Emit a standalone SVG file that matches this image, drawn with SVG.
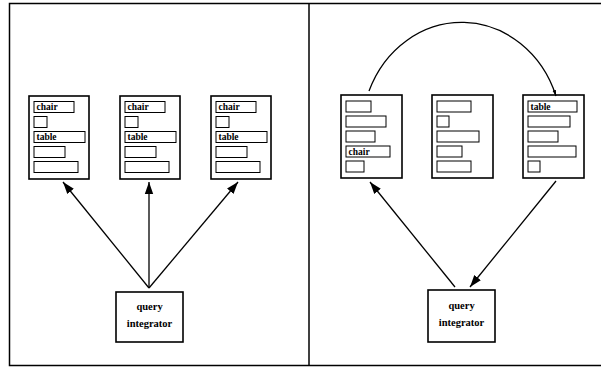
<svg xmlns="http://www.w3.org/2000/svg" width="601" height="370" viewBox="0 0 601 370">
<style>
.frame{fill:none;stroke:#000;stroke-width:1.5}
.doc{fill:#fff;stroke:#000;stroke-width:1.6}
.f{fill:#fff;stroke:#000;stroke-width:1}
.lbl{font-family:"Liberation Serif","Times New Roman",serif;font-weight:bold;font-size:9.5px;fill:#000}
.qi{font-family:"Liberation Serif","Times New Roman",serif;font-weight:bold;font-size:10.5px;fill:#000;text-anchor:middle}
.c{fill:none;stroke:#000;stroke-width:1.3}
</style>
<defs>
<marker id="ah" viewBox="0 0 10 10" refX="10" refY="5" markerWidth="6" markerHeight="6" markerUnits="userSpaceOnUse" orient="auto">
<path d="M0,2 L10,5 L0,8 Z" fill="#000"/>
</marker>
<marker id="ah2" viewBox="0 0 10 10" refX="10" refY="5" markerWidth="12" markerHeight="12" markerUnits="userSpaceOnUse" orient="auto">
<path d="M0,1.5 L10,5 L0,8.5 Z" fill="#000"/>
</marker>
</defs>
<g id="frame">
<rect class="frame" x="9.5" y="3.5" width="600" height="362"/>
<line class="frame" x1="309" y1="3.5" x2="309" y2="365.5"/>
</g>
<g id="doc1">
<rect class="doc" x="29" y="96" width="60" height="83"/>
<rect class="f" x="34" y="101.5" width="40" height="11"/><text class="lbl" x="36.5" y="110">chair</text>
<rect class="f" x="34" y="116.5" width="13" height="11"/>
<rect class="f" x="34" y="131.5" width="51" height="11"/><text class="lbl" x="36.5" y="140">table</text>
<rect class="f" x="34" y="146.5" width="31" height="11"/>
<rect class="f" x="34" y="161.5" width="44" height="11"/>
</g>
<g id="doc2">
<rect class="doc" x="120" y="96" width="60" height="83"/>
<rect class="f" x="125" y="101.5" width="40" height="11"/><text class="lbl" x="127.5" y="110">chair</text>
<rect class="f" x="125" y="116.5" width="13" height="11"/>
<rect class="f" x="125" y="131.5" width="51" height="11"/><text class="lbl" x="127.5" y="140">table</text>
<rect class="f" x="125" y="146.5" width="31" height="11"/>
<rect class="f" x="125" y="161.5" width="44" height="11"/>
</g>
<g id="doc3">
<rect class="doc" x="211" y="96" width="60" height="83"/>
<rect class="f" x="216" y="101.5" width="40" height="11"/><text class="lbl" x="218.5" y="110">chair</text>
<rect class="f" x="216" y="116.5" width="13" height="11"/>
<rect class="f" x="216" y="131.5" width="51" height="11"/><text class="lbl" x="218.5" y="140">table</text>
<rect class="f" x="216" y="146.5" width="31" height="11"/>
<rect class="f" x="216" y="161.5" width="44" height="11"/>
</g>
<g id="qi1">
<rect class="doc" x="116" y="292" width="67" height="50"/>
<text class="qi" x="149.5" y="310">query</text>
<text class="qi" x="149.5" y="327">integrator</text>
</g>
<g id="doc4">
<rect class="doc" x="341" y="95" width="61" height="83"/>
<rect class="f" x="346" y="101" width="25" height="11"/>
<rect class="f" x="346" y="116" width="40" height="11"/>
<rect class="f" x="346" y="131" width="29" height="11"/>
<rect class="f" x="346" y="146" width="44" height="11"/><text class="lbl" x="348.5" y="154.5">chair</text>
<rect class="f" x="346" y="161" width="18" height="11"/>
</g>
<g id="doc5">
<rect class="doc" x="432" y="95" width="61" height="83"/>
<rect class="f" x="437" y="101" width="34" height="11"/>
<rect class="f" x="437" y="116" width="12" height="11"/>
<rect class="f" x="437" y="131" width="42" height="11"/>
<rect class="f" x="437" y="146" width="25" height="11"/>
<rect class="f" x="437" y="161" width="34" height="11"/>
</g>
<g id="doc6">
<rect class="doc" x="523" y="95" width="61" height="83"/>
<rect class="f" x="528" y="101" width="49" height="11"/><text class="lbl" x="530.5" y="109.5">table</text>
<rect class="f" x="528" y="116" width="42" height="11"/>
<rect class="f" x="528" y="131" width="30" height="11"/>
<rect class="f" x="528" y="146" width="48" height="11"/>
<rect class="f" x="528" y="161" width="12" height="11"/>
</g>
<g id="qi2">
<rect class="doc" x="428" y="290" width="67" height="52"/>
<text class="qi" x="461.5" y="309">query</text>
<text class="qi" x="461.5" y="326">integrator</text>
</g>
<g id="connectors">
<line class="c" x1="149" y1="288" x2="63" y2="182" marker-end="url(#ah2)"/>
<line class="c" x1="149" y1="288" x2="149" y2="182" marker-end="url(#ah2)"/>
<line class="c" x1="149" y1="288" x2="238" y2="182" marker-end="url(#ah2)"/>
<line class="c" x1="455" y1="287" x2="370" y2="182" marker-end="url(#ah2)"/>
<line class="c" x1="556" y1="181" x2="470" y2="287" marker-end="url(#ah2)"/>
<path class="c" d="M369,91 A100,110 0 0 1 556,96" marker-end="url(#ah)"/>
</g>
</svg>
